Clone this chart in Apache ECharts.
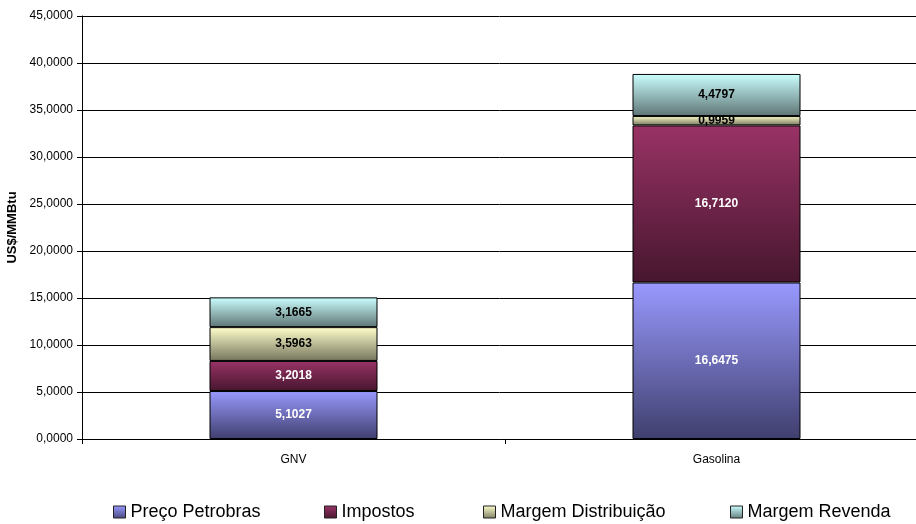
<!DOCTYPE html>
<html><head><meta charset="utf-8">
<script src="https://cdn.jsdelivr.net/npm/echarts@6/dist/echarts.min.js"></script>
<style>html,body{margin:0;padding:0;background:#fff}#c{width:916px;height:524px}</style>
</head><body><div id="c"></div>
<script>
const categories = ['GNV', 'Gasolina'];
const seriesNames = ['Preço Petrobras', 'Impostos', 'Margem Distribuição', 'Margem Revenda'];
const precoPetrobras = [5.1027, 16.6475];
const impostos = [3.2018, 16.7120];
const margemDistribuicao = [3.5963, 0.9959];
const margemRevenda = [3.1665, 4.4797];
const yTicks = [0, 5, 10, 15, 20, 25, 30, 35, 40, 45];

const values = [precoPetrobras, impostos, margemDistribuicao, margemRevenda];
const grads = [['#9999ff', '#3f3f6e'], ['#993366', '#46162e'], ['#ffffcc', '#75755e'], ['#ccffff', '#5e7575']];
const legendColors = [
  ['#9999ff', '#4a4a80'], ['#993366', '#4a1830'], ['#ffffcc', '#7f7f66'], ['#ccffff', '#667f7f']
];
const labelColors = ['#fff', '#fff', '#000', '#000'];
const legendLeft = [113, 324, 483, 730];
const fmt = v => v.toFixed(4).replace('.', ',');

const chart = echarts.init(document.getElementById('c'));
chart.setOption({
  animation: false,
  textStyle: { fontFamily: 'Liberation Sans, Arial, sans-serif' },
  grid: { left: 82, top: 16, width: 846, height: 423, containLabel: false, outerBoundsMode: 'none' },
  legend: seriesNames.map((n, i) => ({
    data: [{ name: n, itemStyle: {
      color: new echarts.graphic.LinearGradient(0, 0, 0, 1, [{ offset: 0, color: legendColors[i][0] }, { offset: 1, color: legendColors[i][1] }]),
      borderColor: '#222', borderWidth: 1 } }],
    left: legendLeft[i], top: 503, padding: 0, icon: 'rect', itemWidth: 12, itemHeight: 12, itemGap: 0,
    textStyle: { fontSize: 18, color: '#000', padding: [0, 0, 0, 0] }
  })),
  xAxis: {
    type: 'category', data: categories, boundaryGap: true,
    axisLine: { lineStyle: { color: '#000', width: 1 } },
    axisTick: { show: true, length: 5, lineStyle: { color: '#000' } },
    axisLabel: { fontSize: 12, color: '#000', margin: 15 }
  },
  yAxis: {
    type: 'value', min: 0, max: 45, interval: 5,
    name: 'US$/MMBtu', nameLocation: 'middle', nameGap: 61, nameRotate: 90,
    nameTextStyle: { fontSize: 13, fontWeight: 'bold', color: '#000' },
    axisLine: { show: true, lineStyle: { color: '#000', width: 1 } },
    axisTick: { show: true, length: 5, lineStyle: { color: '#000' } },
    axisLabel: { fontSize: 12, color: '#000', margin: 9, formatter: v => yTicks.includes(v) ? fmt(v) : '' },
    splitLine: { show: true, lineStyle: { color: '#000', width: 1 } }
  },
  series: seriesNames.map((n, i) => ({
    name: n, type: 'bar', stack: 'total', barWidth: 168,
    data: values[i],
    itemStyle: {
      color: new echarts.graphic.LinearGradient(0, 0, 0, 1, [{ offset: 0, color: grads[i][0] }, { offset: 1, color: grads[i][1] }]),
      borderColor: '#000', borderWidth: 1
    },
    label: { show: true, position: 'inside', fontSize: 12, fontWeight: 'bold', color: labelColors[i], formatter: p => fmt(p.value) }
  }))
});
</script></body></html>
